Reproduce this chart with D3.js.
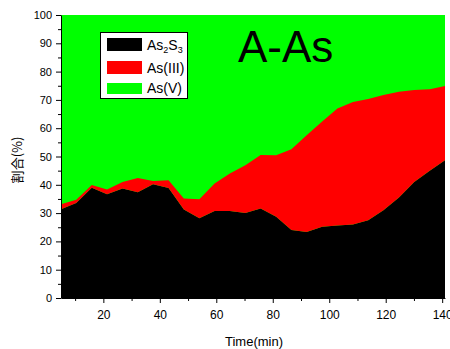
<!DOCTYPE html>
<html>
<head>
<meta charset="utf-8">
<script src="https://cdn.jsdelivr.net/npm/d3@7"></script>
<style>
  body { margin: 0; background: #fff; }
  text { font-family: "Liberation Sans", Arial, sans-serif; }
</style>
</head>
<body>
<script>
// time points (min)
var times = [5, 10.4, 15.9, 21.3, 26.8, 32.2, 37.6, 43.1, 48.5, 54, 59.4, 64.8, 70.3,
  75.7, 81.2, 86.6, 92, 97.5, 102.9, 108.4, 113.8, 119.2, 124.7, 130.1, 135.6, 141];
// percentages
var as2s3 = [31.4, 33.6, 39.0, 36.7, 38.7, 37.4, 40.2, 38.9, 31.3, 28.2, 30.7, 30.7, 30.0,
  31.6, 28.7, 24.0, 23.3, 25.2, 25.6, 26.0, 27.5, 31.0, 35.5, 41.0, 45.0, 48.7];
var as3 = [1.7, 1.1, 0.9, 1.6, 2.3, 5.0, 1.1, 2.7, 3.9, 6.7, 9.8, 13.3, 16.9,
  18.9, 21.7, 28.6, 34.2, 37.2, 41.4, 43.3, 42.8, 40.7, 37.4, 32.5, 28.8, 26.2];
var as5 = [66.9, 65.3, 60.1, 61.7, 59.0, 57.6, 58.7, 58.4, 64.8, 65.1, 59.5, 56.0, 53.1,
  49.5, 49.6, 47.4, 42.5, 37.6, 33.0, 30.7, 29.7, 28.3, 27.1, 26.5, 26.2, 25.1];

var seriesKeys = ["as2s3", "as3", "as5"];
var seriesColors = ["#000000", "#ff0000", "#00ff00"];
var xTicks = [20, 40, 60, 80, 100, 120, 140];
var yTicks = [0, 10, 20, 30, 40, 50, 60, 70, 80, 90, 100];

var rows = times.map(function(t, i) {
  return { t: t, as2s3: as2s3[i], as3: as3[i], as5: as5[i] };
});

var width = 450, height = 349;
var plotLeft = 61, plotRight = 445, plotTop = 15, plotBottom = 298;

var svg = d3.select("body").append("svg")
  .attr("width", width)
  .attr("height", height);

var x = d3.scaleLinear().domain([5, 141]).range([plotLeft, plotRight]);
var y = d3.scaleLinear().domain([0, 100]).range([plotBottom, plotTop]);

var stacked = d3.stack().keys(seriesKeys)(rows);

var area = d3.area()
  .x(function(d) { return x(d.data.t); })
  .y0(function(d) { return y(d[0]); })
  .y1(function(d) { return y(Math.min(100, d[1])); });

// green goes to the top of the plot
svg.append("rect")
  .attr("x", plotLeft).attr("y", plotTop)
  .attr("width", plotRight - plotLeft).attr("height", plotBottom - plotTop)
  .attr("fill", seriesColors[2]);

svg.selectAll(".layer")
  .data(stacked.slice(0, 2))
  .enter()
  .append("path")
  .attr("class", "layer")
  .attr("d", area)
  .attr("fill", function(d, i) { return seriesColors[i]; });

// y axis
var yAxis = svg.append("g")
  .attr("transform", "translate(" + plotLeft + ",0)")
  .call(d3.axisLeft(y).tickValues(yTicks).tickSize(5).tickSizeOuter(0));
yAxis.selectAll("text").style("font-size", "11px").attr("dx", "-1");
svg.append("g")
  .attr("transform", "translate(" + plotLeft + ",0)")
  .call(d3.axisLeft(y).tickValues(d3.range(5, 100, 10)).tickSize(3).tickFormat(""))
  .select(".domain").remove();

// x axis
var xAxis = svg.append("g")
  .attr("transform", "translate(0," + plotBottom + ")")
  .call(d3.axisBottom(x).tickValues(xTicks).tickSize(5).tickSizeOuter(0));
xAxis.selectAll("text").style("font-size", "12px").attr("dy", "1.05em");
svg.append("g")
  .attr("transform", "translate(0," + plotBottom + ")")
  .call(d3.axisBottom(x).tickValues([10, 30, 50, 70, 90, 110, 130]).tickSize(3).tickFormat(""))
  .select(".domain").remove();

svg.selectAll(".domain").attr("stroke", "#000");

// axis titles
svg.append("text")
  .attr("x", (plotLeft + plotRight) / 2 + 1)
  .attr("y", 346)
  .attr("text-anchor", "middle")
  .style("font-size", "13px")
  .text("Time(min)");

svg.append("text")
  .attr("transform", "translate(22,160) rotate(-90)")
  .attr("text-anchor", "middle")
  .style("font-family", "'Noto Sans CJK JP', sans-serif")
  .style("font-size", "13px")
  .text("割合(%)");

// big label
svg.append("text")
  .attr("x", 238)
  .attr("y", 62)
  .style("font-size", "44px")
  .text("A-As");

// legend
var legend = svg.append("g");
legend.append("rect")
  .attr("x", 100.5).attr("y", 32.5)
  .attr("width", 87).attr("height", 66)
  .attr("fill", "#fff").attr("stroke", "#000").attr("stroke-width", 1);

var legendRows = [
  { y: 38, h: 13 },
  { y: 61, h: 13 },
  { y: 83, h: 11 }
];
legend.selectAll(".swatch")
  .data(legendRows)
  .enter()
  .append("rect")
  .attr("x", 107).attr("y", function(d) { return d.y; })
  .attr("width", 35).attr("height", function(d) { return d.h; })
  .attr("fill", function(d, i) { return seriesColors[i]; });

var t1 = legend.append("text").attr("x", 147).attr("y", 50).style("font-size", "14px");
t1.append("tspan").text("As");
t1.append("tspan").attr("dy", 3).style("font-size", "9px").text("2");
t1.append("tspan").attr("dy", -3).text("S");
t1.append("tspan").attr("dy", 3).style("font-size", "9px").text("3");

legend.append("text").attr("x", 147).attr("y", 73).style("font-size", "14px").text("As(III)");
legend.append("text").attr("x", 147).attr("y", 93).style("font-size", "14px").text("As(V)");
</script>
</body>
</html>
